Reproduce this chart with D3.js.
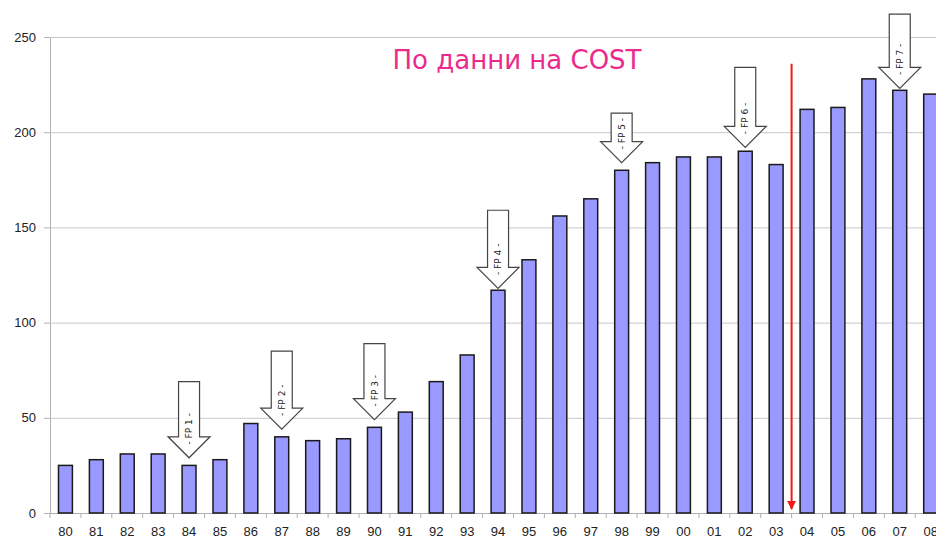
<!DOCTYPE html>
<html>
<head>
<meta charset="utf-8">
<script src="https://cdn.jsdelivr.net/npm/d3@7"></script>
<style>
  body { margin: 0; background: #fff; }
  svg { display: block; font-family: Verdana, "DejaVu Sans", sans-serif; }
</style>
</head>
<body>
<div id="chart"></div>
<script>
var years = ["80","81","82","83","84","85","86","87","88","89","90","91","92","93","94",
             "95","96","97","98","99","00","01","02","03","04","05","06","07","08"];
var values = [25, 28, 31, 31, 25, 28, 47, 40, 38, 39, 45, 53, 69, 83, 117,
              133, 156, 165, 180, 184, 187, 187, 190, 183, 212, 213, 228, 222, 220];
var yTicks = [0, 50, 100, 150, 200, 250];

// framework programmes: year, label, arrow top and arrow tip (in chart units)
var fpYears = ["84", "87", "90", "94", "98", "02", "07"];
var fpLabels = ["FP 1", "FP 2", "FP 3", "FP 4", "FP 5", "FP 6", "FP 7"];
var fpTops = [69, 85, 89, 159, 210, 234, 262];
var fpTips = [29, 44, 49, 118, 184, 192, 223];

var title = "По данни на COST";
var splitAfter = "03"; // red marker between 03 and 04
var splitTop = 236;

var margin = {top: 37, right: 0, bottom: 27, left: 50},
    width = 936 - margin.left - margin.right,
    height = 540 - margin.top - margin.bottom;

var x = d3.scaleBand()
    .domain(years)
    .range([0, years.length * 30.9])
    .paddingInner(0.55)
    .paddingOuter(0.275);

var y = d3.scaleLinear()
    .domain([0, 250])
    .range([height, 0]);

var svg = d3.select("#chart").append("svg")
    .attr("width", 936)
    .attr("height", 540);

svg.append("defs").append("marker")
    .attr("id", "redhead")
    .attr("viewBox", "0 0 10 10")
    .attr("refX", 9).attr("refY", 5)
    .attr("markerWidth", 6).attr("markerHeight", 4.5)
    .attr("markerUnits", "strokeWidth")
    .attr("orient", "auto")
    .append("path")
    .attr("d", "M0,0L10,5L0,10Z")
    .attr("fill", "#ee1c1c");

var g = svg.append("g")
    .attr("transform", "translate(" + margin.left + "," + margin.top + ")");

// gridlines + y axis
var yAxis = g.append("g")
    .call(d3.axisLeft(y).tickValues(yTicks).tickSize(6).tickPadding(8));
yAxis.select(".domain").attr("stroke", "#b0b0b0");
yAxis.selectAll(".tick line").attr("stroke", "#b0b0b0");
yAxis.selectAll(".tick text")
    .attr("fill", "#222")
    .style("font-size", "13px");

g.append("g")
  .selectAll("line")
  .data(yTicks.filter(function(d) { return d > 0; }))
  .join("line")
    .attr("x1", 0).attr("x2", width)
    .attr("y1", function(d) { return y(d) + 0.5; })
    .attr("y2", function(d) { return y(d) + 0.5; })
    .attr("stroke", "#c8c8c8")
    .attr("stroke-width", 1);

// x axis with ticks between categories
var xAxis = g.append("g")
    .attr("transform", "translate(0," + height + ")")
    .call(d3.axisBottom(x).tickSize(0).tickPadding(14));
xAxis.select(".domain").attr("stroke", "#b0b0b0");
xAxis.selectAll(".tick text")
    .attr("fill", "#222")
    .style("font-size", "13px");
xAxis.selectAll(".between")
  .data(years)
  .join("line")
    .attr("class", "between")
    .attr("x1", function(d) { return x(d) - x.step() * x.paddingInner() / 2; })
    .attr("x2", function(d) { return x(d) - x.step() * x.paddingInner() / 2; })
    .attr("y1", 0).attr("y2", 5)
    .attr("stroke", "#b0b0b0");

// bars
g.append("g")
  .selectAll("rect")
  .data(values)
  .join("rect")
    .attr("x", function(d, i) { return x(years[i]); })
    .attr("y", function(d) { return y(d); })
    .attr("width", x.bandwidth())
    .attr("height", function(d) { return height - y(d); })
    .attr("fill", "#9999ff")
    .attr("stroke", "#1a1a1a")
    .attr("stroke-width", 1.5);

// block arrows for framework programmes
var arrows = g.append("g")
  .selectAll("g")
  .data(fpYears)
  .join("g")
    .attr("transform", function(d) {
        return "translate(" + (x(d) + x.bandwidth() / 2) + ",0)";
    });

arrows.append("path")
    .attr("d", function(d, i) {
        var top = y(fpTops[i]),
            tip = y(fpTips[i]),
            neck = tip - 21;
        return "M-10.5," + top + "L10.5," + top + "L10.5," + neck + "L21," + neck +
               "L0," + tip + "L-21," + neck + "L-10.5," + neck + "Z";
    })
    .attr("fill", "#fff")
    .attr("stroke", "#444")
    .attr("stroke-width", 1.2);

arrows.append("text")
    .attr("transform", function(d, i) {
        return "translate(0," + (y(fpTips[i]) - 29) + ") rotate(-90)";
    })
    .attr("text-anchor", "middle")
    .attr("dy", "0.35em")
    .attr("fill", "#222")
    .style("font-size", "9px")
    .text(function(d, i) { return "- " + fpLabels[i] + " -"; });

// red split marker
var splitX = x(splitAfter) + x.bandwidth() + x.step() * x.paddingInner() / 2;
g.append("line")
    .attr("x1", splitX).attr("x2", splitX)
    .attr("y1", y(splitTop)).attr("y2", height - 4)
    .attr("stroke", "#ee1c1c")
    .attr("stroke-width", 2)
    .attr("marker-end", "url(#redhead)");

// caption
svg.append("text")
    .attr("x", 517).attr("y", 69)
    .attr("text-anchor", "middle")
    .attr("fill", "#ec2a8c")
    .style("font-size", "26px")
    .text(title);
</script>
</body>
</html>
